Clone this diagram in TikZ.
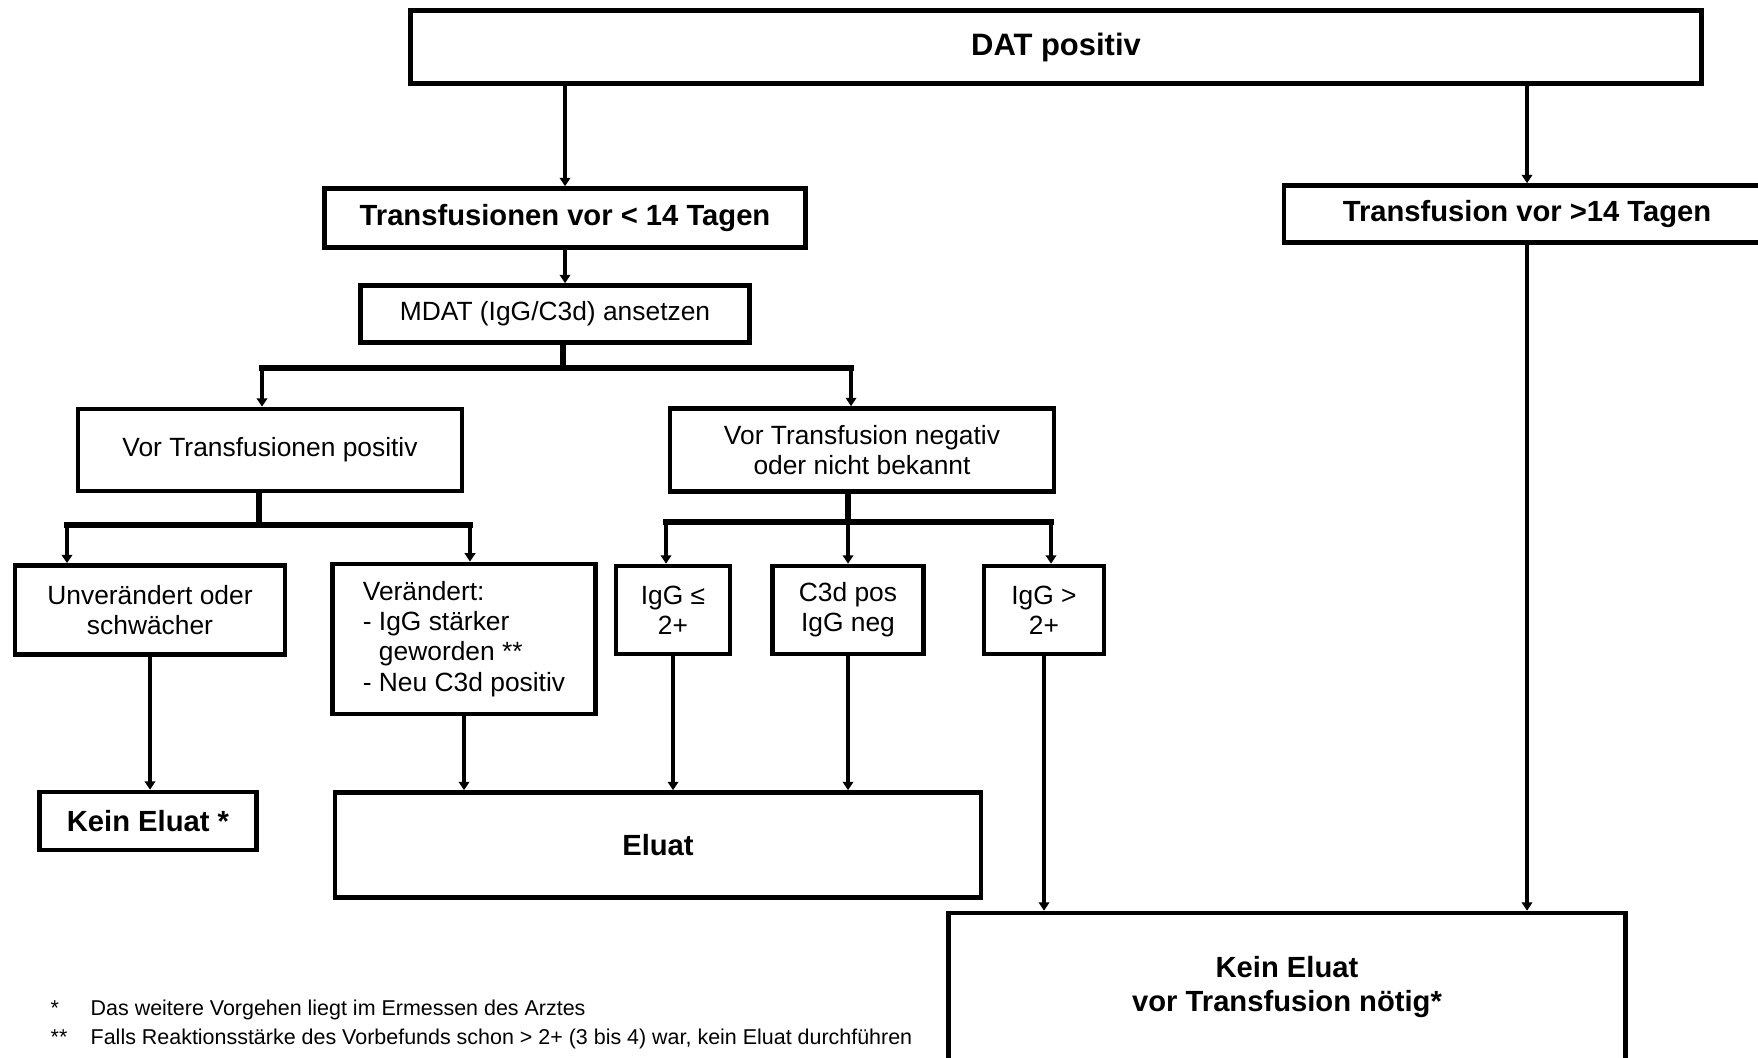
\documentclass[tikz,border=0pt]{standalone}
\usepackage{fontspec}
\setmainfont{Liberation Sans}
\usetikzlibrary{arrows.meta,positioning}

\begin{document}
\begin{tikzpicture}[x=0.01cm, y=-0.01cm,
    box/.style={draw, line width=1.3pt, align=center, inner sep=2pt, font=\fontsize{7.5}{8.6}\selectfont},
    bbox/.style={box, font=\fontsize{8.3}{9.6}\selectfont\bfseries},
    arr/.style={-{Triangle[length=2.4pt, width=3pt]}, line width=1.1pt},
    bar/.style={line width=1.8pt, line cap=rect},
    fuss/.style={anchor=base west, inner sep=0pt, font=\fontsize{6.1}{7}\selectfont}
  ]
  \useasboundingbox (0,0) rectangle (1758,1057);

  % Kopf und Zeitraum
  \node[bbox, minimum width=12.9cm, minimum height=0.73cm, font=\fontsize{8.8}{10}\selectfont\bfseries] (dat) at (1056,47) {DAT positiv};
  \node[bbox, minimum width=4.81cm, minimum height=0.59cm] (kurz) at (565,218) {Transfusionen vor < 14 Tagen};
  \node[bbox, minimum width=4.86cm, minimum height=0.57cm] (lang) at (1527,214) {Transfusion vor >14 Tagen};
  \node[box, minimum width=3.89cm, minimum height=0.57cm] (mdat) at (555,314) {MDAT (IgG/C3d) ansetzen};

  % Vorbefund
  \node[box, minimum width=3.84cm, minimum height=0.82cm] (vpos) at (270,450) {Vor Transfusionen positiv};
  \node[box, minimum width=3.84cm, minimum height=0.83cm] (vneg) at (862,450) {Vor Transfusion negativ\\oder nicht bekannt};

  % Ergebnis MDAT
  \node[box, minimum width=2.70cm, minimum height=0.89cm] (unv) at (150,610) {Unverändert oder\\schwächer};
  \node[box, minimum width=2.63cm, minimum height=1.50cm, align=left] (ver) at (464,639) {Verändert:\\- IgG stärker\\\phantom{- }geworden **\\- Neu C3d positiv};
  \node[box, minimum width=1.14cm, minimum height=0.88cm] (igle) at (673,610) {IgG ≤\\2+};
  \node[box, minimum width=1.51cm, minimum height=0.88cm] (c3d) at (848,610) {C3d pos\\IgG neg};
  \node[box, minimum width=1.20cm, minimum height=0.88cm] (iggt) at (1044,610) {IgG >\\2+};

  % Entscheidung
  \node[bbox, minimum width=2.17cm, minimum height=0.58cm] (kein) at (148,821) {Kein Eluat *};
  \node[bbox, minimum width=6.46cm, minimum height=1.05cm] (eluat) at (658,845) {Eluat};
  \node[bbox, minimum width=6.77cm, minimum height=1.48cm] (keinvor) at (1287,987) {Kein Eluat\\vor Transfusion nötig*};

  % Verzweigungen
  \coordinate (v1) at (563,368);
  \coordinate (v1l) at (262,368);
  \coordinate (v1r) at (851,368);
  \coordinate (v2) at (259,525);
  \coordinate (v2l) at (67,525);
  \coordinate (v2r) at (470,525);
  \coordinate (v3) at (848,522);
  \coordinate (v3l) at (666,522);
  \coordinate (v3r) at (1051,522);

  \draw[arr] (dat.south -| kurz.north) -- (kurz.north);
  \draw[arr] (dat.south -| lang.north) -- (lang.north);
  \draw[arr] (kurz.south) -- (kurz.south |- mdat.north);

  \draw[bar] (mdat.south -| v1) -- (v1);
  \draw[bar] (v1l) -- (v1r);
  \draw[arr] (v1l) -- (v1l |- vpos.north);
  \draw[arr] (v1r) -- (v1r |- vneg.north);

  \draw[bar] (vpos.south -| v2) -- (v2);
  \draw[bar] (v2l) -- (v2r);
  \draw[arr] (v2l) -- (v2l |- unv.north);
  \draw[arr] (v2r) -- (v2r |- ver.north);

  \draw[bar] (vneg.south -| v3) -- (v3);
  \draw[bar] (v3l) -- (v3r);
  \draw[arr] (v3l) -- (v3l |- igle.north);
  \draw[arr] (v3) -- (v3 |- c3d.north);
  \draw[arr] (v3r) -- (v3r |- iggt.north);

  \draw[arr] (unv.south) -- (unv.south |- kein.north);
  \draw[arr] (ver.south) -- (ver.south |- eluat.north);
  \draw[arr] (igle.south) -- (igle.south |- eluat.north);
  \draw[arr] (c3d.south) -- (c3d.south |- eluat.north);
  \draw[arr] (iggt.south) -- (iggt.south |- keinvor.north);
  \draw[arr] (lang.south) -- (lang.south |- keinvor.north);

  % Fussnoten
  \node[fuss] (fn1s) at (50,1015) {*};
  \node[fuss] (fn1) at (90,1015) {Das weitere Vorgehen liegt im Ermessen des Arztes};
  \node[fuss] (fn2s) at (50,1044) {**};
  \node[fuss] (fn2) at (90,1044) {Falls Reaktionsstärke des Vorbefunds schon > 2+ (3 bis 4) war, kein Eluat durchführen};
\end{tikzpicture}
\end{document}
